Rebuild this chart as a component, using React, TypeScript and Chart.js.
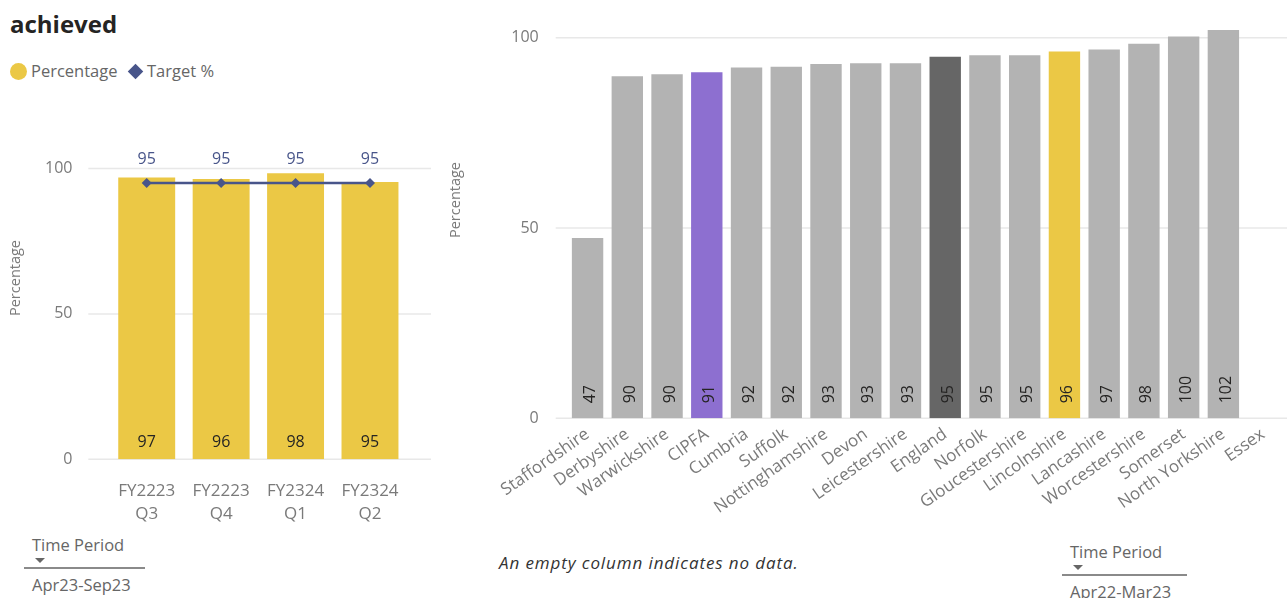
import React, { useEffect, useRef } from 'react';
import { Chart, registerables } from 'chart.js';

Chart.register(...registerables);

// ---------------- data ----------------
const periodLabels: string[][] = [
  ['FY2223', 'Q3'],
  ['FY2223', 'Q4'],
  ['FY2324', 'Q1'],
  ['FY2324', 'Q2'],
];
const percentageValues: number[] = [96.9, 96.4, 98.4, 95.4];
const targetValues: number[] = [95, 95, 95, 95];
const leftAxisTicks: number[] = [0, 50, 100];

const areaLabels: string[] = [
  'Staffordshire', 'Derbyshire', 'Warwickshire', 'CIPFA', 'Cumbria', 'Suffolk',
  'Nottinghamshire', 'Devon', 'Leicestershire', 'England', 'Norfolk',
  'Gloucestershire', 'Lincolnshire', 'Lancashire', 'Worcestershire', 'Somerset',
  'North Yorkshire', 'Essex',
];
const areaValues: (number | null)[] = [
  47.4, 89.9, 90.4, 90.9, 92.2, 92.4, 93.1, 93.3, 93.3, 95.0, 95.4, 95.4, 96.4,
  96.9, 98.4, 100.3, 102.0, null,
];
const rightAxisTicks: number[] = [0, 50, 100];

// ---------------- styles ----------------
const FONT = "'Open Sans', 'Noto Sans', sans-serif";
const YELLOW = '#EBC845';
const NAVY = '#48558A';
const GREY_BAR = '#B3B3B3';
const HIGHLIGHT: Record<string, string> = {
  CIPFA: '#8D6FD0',
  England: '#666666',
  Lincolnshire: YELLOW,
};
const TICK_COLOR = '#7A7A7A';
const TEXT_COLOR = '#666666';
const GRID_COLOR = '#E8E8E8';

const extendedGrid = {
  id: 'extendedGrid',
  beforeDatasetsDraw(chart: any, _args: any, opts: any) {
    const { ctx, chartArea } = chart;
    const y = chart.scales.y;
    ctx.save();
    ctx.strokeStyle = opts.color;
    ctx.lineWidth = 1.5;
    for (const t of y.ticks) {
      const py = y.getPixelForValue(t.value);
      ctx.beginPath();
      ctx.moveTo(chartArea.left - opts.extendLeft, py);
      ctx.lineTo(chartArea.right + opts.extendRight, py);
      ctx.stroke();
    }
    ctx.restore();
  },
};

const comboLabels = {
  id: 'comboLabels',
  afterDatasetsDraw(chart: any) {
    const ctx = chart.ctx;
    ctx.save();
    ctx.font = `16px ${FONT}`;
    ctx.textAlign = 'center';
    ctx.textBaseline = 'alphabetic';
    chart.data.datasets.forEach((ds: any, i: number) => {
      const meta = chart.getDatasetMeta(i);
      meta.data.forEach((el: any, j: number) => {
        const v = ds.data[j];
        if (v == null) return;
        const txt = String(Math.round(v));
        if (ds.type === 'line') {
          ctx.fillStyle = NAVY;
          ctx.fillText(txt, el.x, el.y - 19);
        } else {
          ctx.fillStyle = '#252423';
          ctx.fillText(txt, el.x, el.base - 12.6);
        }
      });
    });
    ctx.restore();
  },
};

const verticalLabels = {
  id: 'verticalLabels',
  afterDatasetsDraw(chart: any) {
    const ctx = chart.ctx;
    const ds = chart.data.datasets[0];
    const meta = chart.getDatasetMeta(0);
    ctx.save();
    ctx.font = `16px ${FONT}`;
    ctx.fillStyle = '#252423';
    ctx.textAlign = 'left';
    ctx.textBaseline = 'alphabetic';
    meta.data.forEach((el: any, j: number) => {
      const v = ds.data[j];
      if (v == null) return;
      ctx.save();
      ctx.translate(el.x, el.base - 15);
      ctx.rotate(-Math.PI / 2);
      ctx.fillText(String(Math.round(v)), 0, 7.5);
      ctx.restore();
    });
    ctx.restore();
  },
};

function LeftChart() {
  const ref = useRef<HTMLCanvasElement | null>(null);
  useEffect(() => {
    if (!ref.current) return;
    const chart = new Chart(ref.current, {
      type: 'bar',
      data: {
        labels: periodLabels,
        datasets: [
          {
            type: 'line',
            label: 'Target %',
            data: targetValues,
            borderColor: NAVY,
            backgroundColor: NAVY,
            borderWidth: 2.5,
            pointStyle: 'rectRot',
            pointRadius: 5,
            pointBorderWidth: 0,
            order: 0,
          } as any,
          {
            type: 'bar',
            label: 'Percentage',
            data: percentageValues,
            backgroundColor: YELLOW,
            barPercentage: 0.765,
            categoryPercentage: 1,
            order: 1,
          } as any,
        ],
      },
      options: {
        animation: false,
        responsive: false,
        maintainAspectRatio: false,
        layout: { padding: { left: 0, right: 42.8, top: 9.5, bottom: 0 } },
        plugins: {
          legend: { display: false },
          tooltip: { enabled: false },
          extendedGrid: { color: GRID_COLOR, extendLeft: 21.2, extendRight: 23.8 },
        } as any,
        scales: {
          x: {
            grid: { display: false, drawTicks: false },
            border: { display: false },
            ticks: {
              color: TICK_COLOR,
              font: { family: FONT, size: 17, lineHeight: 1.35 },
              padding: 20,
              maxRotation: 0,
              autoSkip: false,
            },
            afterFit: (s: any) => {
              s.height = 70.7;
              s.paddingLeft = 0;
              s.paddingRight = 0;
            },
          },
          y: {
            min: 0,
            max: 110,
            grid: { display: false, drawTicks: false },
            border: { display: false },
            ticks: {
              stepSize: 50,
              color: TICK_COLOR,
              font: { family: FONT, size: 16 },
              padding: 37,
            },
            afterBuildTicks: (s: any) => {
              s.ticks = leftAxisTicks.map((v) => ({ value: v }));
            },
            afterFit: (s: any) => {
              s.width = 109.5;
              s.paddingTop = 0;
              s.paddingBottom = 0;
            },
          },
        },
      } as any,
      plugins: [extendedGrid, comboLabels],
    });
    return () => chart.destroy();
  }, []);
  return (
    <canvas
      ref={ref}
      width={450}
      height={400}
      style={{ position: 'absolute', left: 0, top: 130, width: 450, height: 400 }}
    />
  );
}

function RightChart() {
  const ref = useRef<HTMLCanvasElement | null>(null);
  useEffect(() => {
    if (!ref.current) return;
    const colors = areaLabels.map((l) => HIGHLIGHT[l] || GREY_BAR);
    const chart = new Chart(ref.current, {
      type: 'bar',
      data: {
        labels: areaLabels,
        datasets: [
          {
            label: 'Percentage',
            data: areaValues,
            backgroundColor: colors,
            barPercentage: 0.79,
            categoryPercentage: 1,
          },
        ],
      },
      options: {
        animation: false,
        responsive: false,
        maintainAspectRatio: false,
        layout: { padding: { left: 0, right: 4, top: 18.7, bottom: 0 } },
        plugins: {
          legend: { display: false },
          tooltip: { enabled: false },
          extendedGrid: { color: GRID_COLOR, extendLeft: 12, extendRight: 10 },
        } as any,
        scales: {
          x: {
            grid: { display: false, drawTicks: false },
            border: { display: false },
            ticks: {
              color: TICK_COLOR,
              font: { family: FONT, size: 17 },
              padding: 6,
              minRotation: 35,
              maxRotation: 35,
              autoSkip: false,
            },
            afterFit: (s: any) => {
              s.height = 121.7;
              s.paddingLeft = 0;
              s.paddingRight = 0;
            },
          },
          y: {
            min: 0,
            max: 105,
            grid: { display: false, drawTicks: false },
            border: { display: false },
            ticks: {
              stepSize: 50,
              color: TICK_COLOR,
              font: { family: FONT, size: 16 },
              padding: 29,
            },
            afterBuildTicks: (s: any) => {
              s.ticks = rightAxisTicks.map((v) => ({ value: v }));
            },
            afterFit: (s: any) => {
              s.width = 127.7;
              s.paddingTop = 0;
              s.paddingBottom = 0;
            },
          },
        },
      } as any,
      plugins: [extendedGrid, verticalLabels],
    });
    return () => chart.destroy();
  }, []);
  return (
    <canvas
      ref={ref}
      width={847}
      height={540}
      style={{ position: 'absolute', left: 440, top: 0, width: 847, height: 540 }}
    />
  );
}

const abs = (left: number, top: number, extra: React.CSSProperties = {}): React.CSSProperties => ({
  position: 'absolute',
  left,
  top,
  whiteSpace: 'nowrap',
  ...extra,
});

function AxisTitle({ cx, cy, text }: { cx: number; cy: number; text: string }) {
  return (
    <div
      style={{
        position: 'absolute',
        left: cx,
        top: cy,
        transform: 'translate(-50%, -50%) rotate(-90deg)',
        fontSize: 14.5,
        lineHeight: '20px',
        color: TICK_COLOR,
        whiteSpace: 'nowrap',
      }}
    >
      {text}
    </div>
  );
}

function Slicer({ left, top, lineLeft, lineWidth, value }: { left: number; top: number; lineLeft: number; lineWidth: number; value: string }) {
  return (
    <>
      <div style={abs(left, top, { fontSize: 16.5, lineHeight: '20px', color: TEXT_COLOR })}>Time Period</div>
      <div
        style={abs(left + 3, top + 23, {
          width: 0,
          height: 0,
          borderLeft: '5px solid transparent',
          borderRight: '5px solid transparent',
          borderTop: '5px solid #666',
        })}
      />
      <div style={abs(lineLeft, top + 32, { width: lineWidth, height: 2, background: '#8A8A8A' })} />
      <div style={abs(left, top + 40, { fontSize: 16.5, lineHeight: '20px', color: TEXT_COLOR })}>{value}</div>
    </>
  );
}

export default function App() {
  useEffect(() => {
    document.body.style.margin = '0';
  }, []);
  return (
    <div
      style={{
        position: 'fixed',
        left: 0,
        top: 0,
        width: 1287,
        height: 598,
        background: '#ffffff',
        overflow: 'hidden',
        fontFamily: FONT,
      }}
    >
      <div style={abs(10, 8.7, { fontSize: 24, fontWeight: 700, lineHeight: '30px', color: '#252423' })}>achieved</div>

      {/* legend */}
      <div style={abs(10, 63, { width: 17, height: 17, borderRadius: '50%', background: YELLOW })} />
      <div style={abs(31, 61, { fontSize: 16.5, lineHeight: '20px', color: TEXT_COLOR })}>Percentage</div>
      <div
        style={abs(129.5, 66, {
          width: 11,
          height: 11,
          background: NAVY,
          transform: 'rotate(45deg)',
        })}
      />
      <div style={abs(147, 61, { fontSize: 16.5, lineHeight: '20px', color: TEXT_COLOR })}>Target %</div>

      <LeftChart />
      <RightChart />

      <AxisTitle cx={14.9} cy={278} text="Percentage" />
      <AxisTitle cx={454.9} cy={200} text="Percentage" />

      <Slicer left={32} top={535.3} lineLeft={24} lineWidth={121} value="Apr23-Sep23" />
      <Slicer left={1070} top={541.6} lineLeft={1062} lineWidth={125} value="Apr22-Mar23" />

      <div
        style={abs(499, 552.7, {
          fontSize: 17,
          lineHeight: '20px',
          fontStyle: 'italic',
          letterSpacing: '0.9px',
          color: '#333333',
        })}
      >
        An empty column indicates no data.
      </div>
    </div>
  );
}
